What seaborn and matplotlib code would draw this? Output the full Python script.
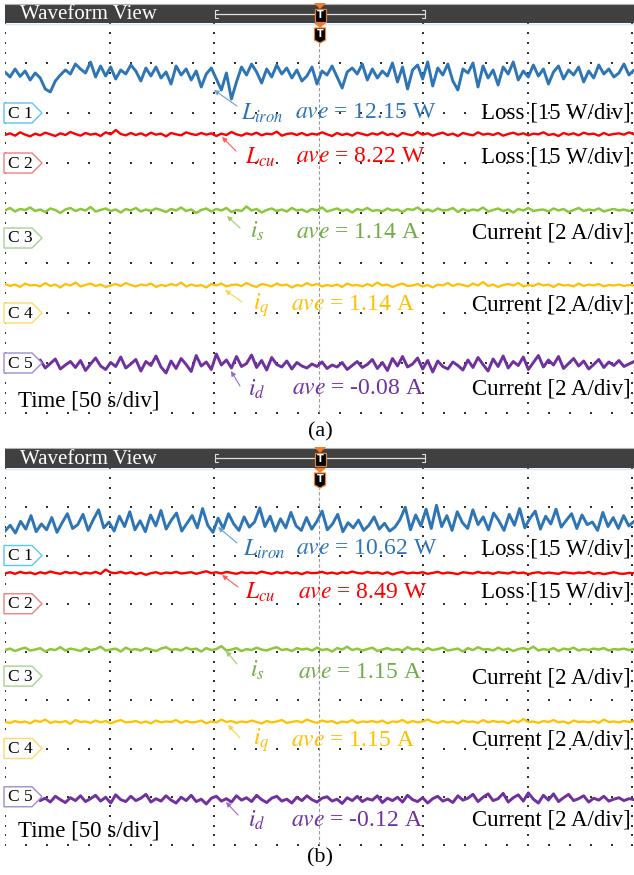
import numpy as np
import pandas as pd
import matplotlib
matplotlib.use("Agg")
import matplotlib.pyplot as plt
import seaborn as sns
from matplotlib.patches import Polygon, Rectangle

# ---------------- data ----------------
channels = ["C 1", "C 2", "C 3", "C 4", "C 5"]
names = [r"$L_{iron}$", r"$L_{cu}$", r"$i_s$", r"$i_q$", r"$i_d$"]
units_text = ["Loss [15 W/div]", "Loss [15 W/div]", "Current [2 A/div]",
              "Current [2 A/div]", "Current [2 A/div]"]
units_per_div = [15.0, 15.0, 2.0, 2.0, 2.0]
ave_a = ["12.15 W", "8.22 W", "1.14 A", "1.14 A", "-0.08 A"]
ave_b = ["10.62 W", "8.49 W", "1.15 A", "1.15 A", "-0.12 A"]
time_span_s = 300  # 6 div x 50 s/div

blue_a = [12.3, 10.8, 13.2, 11.0, 12.6, 9.9, 12.0, 10.5, 7.2, 6.3, 9.6, 11.4, 12.9, 11.7, 14.7, 13.2, 12.0, 15.3,
          10.8, 14.1, 11.1, 13.8, 10.2, 12.9, 11.7, 14.4, 12.6, 9.6, 13.5, 11.1, 13.8, 10.5, 12.3, 8.7, 14.1, 11.4,
          13.2, 9.9, 12.6, 7.8, 11.7, 13.5, 10.2, 6.9, 12.0, 4.2, 9.3, 13.8, 11.4, 14.7, 12.3, 9.0, 13.2, 10.8,
          14.4, 11.7, 13.5, 10.5, 12.9, 9.6, 11.1, 13.8, 8.7, 12.6, 11.4, 14.1, 10.8, 7.5, 12.3, 13.5, 11.7, 14.7,
          9.9, 13.2, 10.5, 12.6, 11.1, 15.0, 9.3, 13.8, 7.2, 12.9, 14.4, 10.2, 15.3, 8.1, 13.5, 11.4, 14.7, 9.6,
          6.9, 13.2, 12.0, 15.0, 7.8, 14.1, 10.5, 12.9, 8.4, 13.8, 11.7, 15.3, 9.9, 12.6, 10.8, 14.4, 11.1, 13.2,
          8.7, 12.3, 14.1, 10.2, 12.9, 11.4, 13.8, 9.3, 12.6, 10.5, 14.4, 11.7, 13.2, 10.8, 12.0, 14.7, 11.4, 12.9]
red_a = [8.4, 8.9, 8.2, 9.2, 8.5, 8.0, 8.8, 8.3, 9.1, 8.6, 8.1, 8.9, 8.4, 9.3, 8.7, 8.2, 9.0, 8.5, 8.8, 8.1, 9.2,
         8.6, 9.9, 8.7, 8.3, 9.0, 8.4, 8.9, 8.2, 9.1, 8.5, 8.8, 8.0, 9.0, 8.6, 8.3, 9.2, 8.7, 8.4, 9.0, 8.5, 8.9,
         8.1, 8.8, 8.4, 9.3, 8.6, 8.2, 8.9, 8.5, 9.1, 8.3, 8.8, 8.6, 9.4, 8.2, 8.7, 8.9, 8.4, 9.0, 8.3, 8.8, 8.5,
         9.2, 8.6, 8.1, 9.0, 8.4, 8.8, 8.2, 9.1, 8.7, 8.3, 8.9, 8.5, 9.2, 8.4, 8.8, 8.0, 9.0, 8.6, 8.3, 9.3, 8.5,
         8.9, 8.2, 8.7, 9.1, 8.4, 8.8, 8.1, 9.0, 8.6, 8.3, 9.2, 8.5, 8.8, 8.4, 9.0, 8.2, 8.7, 9.1, 8.5, 8.9, 8.3,
         8.8, 8.6, 9.2, 8.4, 8.7, 8.1, 9.0, 8.5, 8.9, 8.3, 9.1, 8.6, 8.8, 8.2, 9.0, 8.4, 8.7, 8.9, 8.5, 9.2, 8.6]
green_a = [1.10, 1.20, 1.06, 1.16, 1.12, 1.22, 1.08, 1.14, 1.04, 1.18, 1.12, 1.00, 1.14, 1.20, 1.08, 1.16, 1.10,
           1.24, 1.06, 1.12, 1.18, 1.08, 1.14, 1.02, 1.16, 1.10, 1.20, 1.06, 1.14, 1.08, 1.18, 1.12, 1.04, 1.16,
           1.10, 1.22, 1.08, 1.14, 1.00, 1.12, 1.18, 1.06, 1.16, 1.10, 1.20, 1.04, 1.12, 1.08, 1.26, 1.10, 1.16,
           1.02, 1.12, 1.18, 1.08, 1.14, 1.06, 1.20, 1.10, 1.14, 1.04, 1.16, 1.10, 1.22, 1.06, 1.12, 1.18, 1.08,
           1.14, 1.02, 1.16, 1.10, 1.20, 1.08, 1.12, 1.06, 1.18, 1.10, 1.14, 1.04, 1.16, 1.12, 1.22, 1.08, 1.14,
           1.06, 1.18, 1.10, 1.12, 1.20, 1.04, 1.16, 1.08, 1.14, 1.10, 1.22, 1.06, 1.12, 1.18, 1.08, 1.14, 1.02,
           1.16, 1.10, 1.20, 1.08, 1.12, 1.14, 1.06, 1.18, 1.10, 1.16, 1.04, 1.12, 1.20, 1.08, 1.14, 1.10, 1.18,
           1.06, 1.12, 1.16, 1.10, 1.14, 1.08, 1.12]
yellow_a = [1.16, 1.08, 1.14, 1.04, 1.18, 1.10, 1.12, 1.06, 1.20, 1.08, 1.14, 1.02, 1.16, 1.10, 1.22, 1.06, 1.12,
            1.18, 1.08, 1.14, 1.04, 1.10, 1.16, 1.08, 1.20, 1.12, 1.06, 1.14, 1.10, 1.18, 1.04, 1.12, 1.08, 1.16,
            1.10, 1.22, 1.06, 1.14, 1.08, 1.12, 1.02, 1.16, 1.10, 1.18, 1.06, 1.12, 1.14, 1.08, 1.20, 1.10, 1.04,
            1.16, 1.12, 1.06, 1.18, 1.10, 1.14, 1.02, 1.12, 1.08, 1.20, 1.10, 1.16, 1.06, 1.12, 1.08, 1.14, 1.04,
            1.18, 1.10, 1.12, 1.06, 1.16, 1.08, 1.22, 1.10, 1.14, 1.04, 1.12, 1.18, 1.08, 1.10, 1.16, 1.06, 1.12,
            1.02, 1.14, 1.10, 1.20, 1.08, 1.16, 1.12, 1.06, 1.18, 1.10, 1.24, 1.08, 1.14, 1.04, 1.12, 1.16, 1.10,
            1.20, 1.06, 1.12, 1.08, 1.18, 1.10, 1.14, 1.04, 1.16, 1.10, 1.12, 1.06, 1.18, 1.08, 1.14, 1.10, 1.16,
            1.06, 1.12, 1.10, 1.14, 1.08, 1.12, 1.10]
purple_a = [-0.10, -0.22, 0.04, -0.16, 0.08, -0.28, -0.06, 0.12, -0.20, -0.02, 0.16, -0.24, -0.08, 0.06, -0.18,
            0.10, -0.30, -0.04, 0.20, -0.12, -0.26, 0.02, -0.14, 0.24, -0.20, -0.04, 0.14, -0.32, 0.06, -0.10,
            0.28, -0.16, -0.40, 0.08, -0.22, 0.18, -0.06, -0.34, 0.30, -0.12, 0.04, -0.26, 0.36, -0.08, 0.12,
            -0.20, 0.26, -0.14, -0.02, 0.32, -0.18, 0.10, -0.28, 0.22, -0.06, -0.16, 0.08, -0.24, 0.02, -0.12,
            -0.20, -0.04, -0.14, 0.04, -0.22, -0.08, -0.16, 0.02, -0.26, -0.10, 0.06, -0.18, -0.06, 0.14, -0.22,
            0.02, -0.30, 0.18, -0.12, 0.26, -0.16, -0.04, 0.20, -0.24, 0.10, -0.36, 0.08, -0.14, -0.24, 0.04,
            -0.10, -0.28, 0.12, -0.18, 0.22, -0.06, -0.32, 0.16, -0.14, 0.28, -0.20, 0.06, -0.10, 0.24, -0.26,
            0.02, 0.30, -0.16, 0.12, -0.08, 0.26, -0.22, -0.02, 0.18, -0.12, 0.08, -0.24, -0.06, 0.14, -0.18,
            0.04, -0.10, 0.10, -0.14, -0.04, 0.06]

blue_b = [7.6, 9.4, 7.0, 10.6, 8.2, 12.4, 7.4, 9.8, 8.0, 11.8, 7.2, 10.2, 13.0, 8.4, 9.6, 12.8, 7.8, 11.2, 14.2,
          8.6, 10.4, 7.6, 12.2, 9.0, 13.6, 8.0, 10.8, 7.4, 12.6, 9.2, 14.0, 8.2, 11.0, 13.2, 7.6, 10.0, 12.4, 8.6,
          14.6, 9.4, 7.2, 11.6, 8.4, 13.0, 9.8, 7.8, 12.0, 8.8, 10.4, 14.8, 9.0, 12.2, 7.6, 11.4, 8.6, 13.4, 9.2,
          7.8, 11.8, 8.2, 10.6, 13.8, 8.0, 9.8, 12.8, 7.4, 10.2, 8.6, 11.0, 7.8, 9.4, 12.0, 8.2, 10.0, 7.6, 8.8,
          11.2, 15.0, 8.0, 12.6, 9.2, 14.4, 8.4, 15.6, 9.0, 12.4, 7.8, 13.6, 10.2, 8.4, 14.2, 9.6, 12.0, 8.0,
          13.2, 10.8, 7.8, 12.8, 9.4, 14.6, 8.6, 11.6, 13.8, 8.2, 12.2, 9.8, 14.4, 8.8, 11.0, 13.0, 8.4, 12.6,
          9.6, 10.4, 7.8, 13.4, 9.0, 11.8, 8.4, 12.4, 9.2, 10.6]
red_b = [9.4, 9.8, 9.3, 9.9, 9.5, 9.7, 9.2, 9.8, 9.4, 10.0, 9.6, 9.3, 9.9, 9.5, 9.8, 9.2, 9.7, 9.4, 9.9, 9.3, 10.6,
         9.7, 9.5, 9.9, 9.4, 9.8, 9.2, 9.6, 9.0, 9.5, 9.8, 9.3, 9.7, 9.5, 9.9, 9.4, 9.6, 9.8, 9.3, 9.7, 10.1, 9.5,
         9.8, 9.4, 9.9, 9.6, 9.3, 9.8, 9.5, 9.7, 9.4, 10.0, 9.6, 9.3, 9.8, 9.5, 9.9, 9.4, 9.7, 9.2, 9.8, 9.5, 9.6,
         9.9, 9.4, 9.7, 9.3, 9.8, 9.5, 10.0, 9.6, 9.4, 9.9, 9.5, 9.7, 9.3, 9.8, 9.1, 9.6, 9.9, 9.4, 9.7, 9.5, 9.8,
         9.3, 9.6, 9.9, 9.4, 9.7, 9.5, 9.2, 9.8, 9.6, 9.4, 9.9, 9.5, 9.7, 9.3, 9.8, 9.6, 9.4, 9.9, 9.5, 9.7, 9.2,
         9.6, 9.8, 9.4, 9.7, 9.5, 9.3, 9.8, 9.6, 9.4, 9.7, 9.5, 9.9, 9.3, 9.6, 9.2, 9.5, 9.8, 9.4, 9.3, 9.6, 9.5]
green_b = [1.08, 1.14, 1.04, 1.12, 1.18, 1.06, 1.10, 1.16, 1.02, 1.12, 1.08, 1.20, 1.06, 1.14, 1.10, 1.04, 1.16,
           1.08, 1.12, 1.22, 1.06, 1.10, 1.14, 1.02, 1.18, 1.08, 1.12, 1.06, 1.16, 1.10, 1.04, 1.14, 1.20, 1.08,
           1.12, 1.06, 1.18, 1.10, 1.14, 1.02, 1.16, 1.08, 1.12, 1.24, 1.06, 1.10, 1.16, 1.04, 1.12, 1.08, 1.18,
           1.10, 1.06, 1.14, 1.20, 1.08, 1.12, 1.04, 1.16, 1.10, 1.14, 1.06, 1.18, 1.08, 1.12, 1.02, 1.16, 1.10,
           1.22, 1.08, 1.14, 1.06, 1.12, 1.18, 1.04, 1.10, 1.16, 1.08, 1.12, 1.06, 1.20, 1.10, 1.14, 1.04, 1.16,
           1.08, 1.12, 1.18, 1.06, 1.10, 1.14, 1.02, 1.16, 1.08, 1.20, 1.10, 1.12, 1.06, 1.18, 1.08, 1.14, 1.04,
           1.12, 1.16, 1.10, 1.22, 1.06, 1.12, 1.08, 1.16, 1.04, 1.14, 1.10, 1.18, 1.06, 1.12, 1.08, 1.14, 1.10,
           1.16, 1.06, 1.12, 1.10, 1.14, 1.08, 1.12]
yellow_b = [1.10, 1.06, 1.14, 1.08, 1.12, 1.04, 1.16, 1.10, 1.20, 1.06, 1.12, 1.08, 1.14, 1.02, 1.18, 1.10, 1.12,
            1.06, 1.16, 1.08, 1.14, 1.04, 1.12, 1.18, 1.08, 1.10, 1.14, 1.06, 1.12, 1.04, 1.16, 1.08, 1.12, 1.10,
            1.18, 1.06, 1.14, 1.08, 1.10, 1.16, 1.04, 1.12, 1.08, 1.20, 1.10, 1.14, 1.06, 1.12, 1.08, 1.16, 1.10,
            1.04, 1.14, 1.08, 1.12, 1.18, 1.06, 1.10, 1.14, 1.08, 1.20, 1.12, 1.06, 1.16, 1.10, 1.14, 1.04, 1.12,
            1.08, 1.18, 1.06, 1.12, 1.10, 1.14, 1.08, 1.16, 1.04, 1.12, 1.10, 1.18, 1.06, 1.14, 1.08, 1.12, 1.20,
            1.10, 1.06, 1.14, 1.08, 1.12, 1.04, 1.16, 1.10, 1.12, 1.06, 1.18, 1.08, 1.14, 1.10, 1.12, 1.04, 1.16,
            1.08, 1.22, 1.10, 1.12, 1.06, 1.14, 1.10, 1.18, 1.08, 1.12, 1.04, 1.16, 1.10, 1.12, 1.08, 1.14, 1.06,
            1.20, 1.10, 1.12, 1.08, 1.14, 1.10, 1.12]
purple_b = [-0.10, -0.18, -0.04, -0.20, -0.08, -0.14, 0.00, -0.16, -0.06, -0.22, 0.02, -0.12, -0.24, -0.04, -0.16,
            0.04, -0.20, -0.08, 0.06, -0.18, -0.02, -0.26, 0.08, -0.12, -0.20, 0.02, -0.16, -0.06, 0.10, -0.22,
            -0.08, -0.18, 0.04, -0.14, -0.26, -0.02, -0.16, 0.06, -0.20, -0.10, -0.30, -0.06, 0.02, -0.18, -0.08,
            -0.22, 0.04, -0.14, -0.04, -0.20, 0.06, -0.12, -0.24, -0.06, 0.02, -0.18, -0.10, -0.26, -0.02, -0.16,
            0.04, -0.12, -0.22, -0.06, 0.00, -0.18, -0.10, -0.28, -0.04, -0.16, 0.02, -0.20, -0.08, -0.14, 0.04,
            -0.24, -0.06, -0.16, -0.02, -0.22, 0.06, -0.12, -0.20, -0.04, -0.26, -0.08, 0.02, -0.18, -0.10, -0.24,
            0.04, -0.14, -0.06, 0.10, -0.20, -0.02, 0.12, -0.16, -0.08, 0.14, -0.22, -0.04, 0.08, -0.18, 0.16,
            -0.10, -0.26, 0.06, -0.14, 0.12, -0.20, -0.04, 0.10, -0.16, -0.08, 0.04, -0.22, -0.06, -0.14, 0.02,
            -0.18, -0.10, -0.04, -0.16, -0.08, -0.12]

# ---------------- style ----------------
sns.set_theme(style="white")
plt.rcParams["font.family"] = ["Liberation Serif", "DejaVu Serif"]
plt.rcParams["mathtext.fontset"] = "stix"

trace_colors = ["#2e75b6", "#ff0000", "#8dc63f", "#ffc000", "#7030a0"]
text_colors = ["#2e75b6", "#ff0000", "#70ad47", "#ffc000", "#7030a0"]
arrow_colors = ["#6a9fd0", "#ff5a5a", "#9fcf6a", "#ffd050", "#9a6cc0"]
tag_colors = ["#5bc8f0", "#f08080", "#a9d18e", "#ffd966", "#a08cd0"]
line_widths = [2.1, 1.7, 1.8, 1.6, 2.1]
ground_div = [6.0, 5.0, 3.5, 2.0, 1.0]

W, H = 634, 875
fig = plt.figure(figsize=(W / 100, H / 100), dpi=100)

panels = [
    dict(series=[blue_a, red_a, green_a, yellow_a, purple_a], aves=ave_a,
         grid_top=13, grid_bot=413, head_top=4, head_bot=23, cap="(a)", cap_y=432,
         name_xy=[(241, 113), (245, 157), (250, 231), (253, 305), (248, 389)],
         ave_xy=[(295, 113), (296, 157), (296, 233), (291, 305), (292, 389)],
         unit_y=[113, 157, 233, 305, 389], time_y=401,
         arrows=[((237, 106), (214, 90)), ((236, 151), (222, 137)), ((240, 228), (227, 216)),
                 ((242, 302), (225, 290)), ((240, 386), (231, 371))]),
    dict(series=[blue_b, red_b, green_b, yellow_b, purple_b], aves=ave_b,
         grid_top=459, grid_bot=845, head_top=448, head_bot=468, cap="(b)", cap_y=858,
         name_xy=[(243, 549), (245, 592), (250, 670), (253, 740), (248, 820)],
         ave_xy=[(296, 549), (298, 592), (298, 672), (291, 740), (291, 820)],
         unit_y=[549, 592, 678, 740, 820], time_y=831,
         arrows=[((237, 543), (218, 527)), ((238, 587), (222, 575)), ((237, 664), (226, 651)),
                 ((240, 738), (228, 725)), ((238, 815), (226, 802))]),
]

x_left, x_right = 5, 634

for p in panels:
    bottom = 1 - p["grid_bot"] / H
    height = (p["grid_bot"] - p["grid_top"]) / H
    ax = fig.add_axes([x_left / W, bottom, (x_right - x_left) / W, height])
    ax.set_xlim(0, time_span_s * (x_right - x_left) / 627.5)
    ax.set_ylim(0, 8)
    ax.axis("off")

    # dotted graticule
    vx, vy = [], []
    for k in [0, 1, 2, 4, 5, 6]:
        ys = np.arange(0, 8.001, 0.2)
        vx += [k * 50] * len(ys)
        vy += list(ys)
    for r in range(0, 9):
        xs = np.arange(0, 300.01, 10)
        vx += list(xs)
        vy += [r] * len(xs)
    ax.scatter(vx, vy, s=1.3, marker="s", color="#333333", linewidths=0, zorder=1)
    # trigger dashed line
    top_div = (p["grid_bot"] - (p["head_bot"] + 20)) / ((p["grid_bot"] - p["grid_top"]) / 8)
    ax.plot([150, 150], [0, top_div], color="#9a9a9a", lw=0.8, dashes=(3, 2), zorder=1)

    rows = []
    for ci, vals in enumerate(p["series"]):
        t = np.linspace(0, time_span_s * (x_right - x_left) / 627.5, len(vals))
        for ti, v in zip(t, vals):
            rows.append(dict(t=ti, pos=ground_div[ci] + v / units_per_div[ci], ch=channels[ci]))
    df = pd.DataFrame(rows)
    for ci, ch in enumerate(channels):
        sns.lineplot(data=df[df.ch == ch], x="t", y="pos", ax=ax, color=trace_colors[ci],
                     lw=line_widths[ci], legend=False, zorder=3, estimator=None)
    ax.axis("off")

# ---------------- overlay (pixel coords) ----------------
ov = fig.add_axes([0, 0, 1, 1])
ov.set_xlim(0, W)
ov.set_ylim(H, 0)
ov.axis("off")

for p in panels:
    ht, hb = p["head_top"], p["head_bot"]
    ov.add_patch(Rectangle((5, ht), W - 5, hb - ht, facecolor="#404040", edgecolor="none", zorder=5))
    ov.plot([5, W], [ht, ht], color="#b0b0b0", lw=0.8, zorder=6)
    ov.plot([5, W], [hb + 0.5, hb + 0.5], color="#dbe8f5", lw=1.0, zorder=6)
    ov.text(20, (ht + hb) / 2 + 1, "Waveform View", color="white", fontsize=15,
            va="center", ha="left", zorder=7)
    ym = (ht + hb) / 2
    ov.plot([215, 425], [ym, ym], color="#e0e0e0", lw=0.9, zorder=6)
    for xb, d in [(215, 1), (425, -1)]:
        ov.plot([xb + 3 * d, xb, xb, xb + 3 * d], [ym - 4, ym - 4, ym + 4, ym + 4],
                color="#e0e0e0", lw=0.8, zorder=6)
    # trigger markers
    ov.add_patch(Polygon([(314, ht - 1), (326, ht - 1), (320, ht + 5)], facecolor="#ed7d31",
                         edgecolor="none", zorder=8))
    ov.add_patch(Rectangle((314.5, ht + 5), 11, 13, facecolor="black", edgecolor="#ed7d31", lw=0.9, zorder=8))
    ov.text(320, ht + 11.5, "T", color="white", fontsize=7, ha="center", va="center",
            family="DejaVu Sans", weight="bold", zorder=9)
    ov.add_patch(Polygon([(314, hb), (326, hb), (320, hb + 5)], facecolor="#ed7d31",
                         edgecolor="none", zorder=8))
    ov.add_patch(Polygon([(314.5, hb + 5), (325.5, hb + 5), (325.5, hb + 17), (320, hb + 20), (314.5, hb + 17)],
                         facecolor="black", edgecolor="#ed7d31", lw=0.9, zorder=8))
    ov.text(320, hb + 11, "T", color="white", fontsize=7, ha="center", va="center",
            family="DejaVu Sans", weight="bold", zorder=9)

    div_h = (p["grid_bot"] - p["grid_top"]) / 8
    for ci in range(5):
        yc = p["grid_bot"] - ground_div[ci] * div_h
        ov.add_patch(Polygon([(4, yc - 10), (32, yc - 10), (42, yc), (32, yc + 10), (4, yc + 10)],
                             facecolor="white", edgecolor=tag_colors[ci], lw=1.0, zorder=6))
        ov.text(8, yc + 0.5, channels[ci], fontsize=12.5, color="black", va="center", ha="left", zorder=7)

        nx, ny = p["name_xy"][ci]
        ov.text(nx, ny, names[ci], fontsize=17, color=text_colors[ci], va="center", ha="left", zorder=7)
        axx, axy = p["ave_xy"][ci]
        ov.text(axx, axy, r"$ave$ = " + p["aves"][ci], fontsize=17, color=text_colors[ci],
                va="center", ha="left", zorder=7)
        ov.text(631, p["unit_y"][ci], units_text[ci], fontsize=16.5, color="black",
                va="center", ha="right", zorder=7)
        (x0, y0), (x1, y1) = p["arrows"][ci]
        ov.annotate("", xy=(x1, y1), xytext=(x0, y0),
                    arrowprops=dict(arrowstyle="-|>", color=arrow_colors[ci], lw=0.8,
                                    mutation_scale=7, shrinkA=0, shrinkB=0), zorder=7)
    ov.text(18, p["time_y"], "Time [50 s/div]", fontsize=16.5, color="black", va="center", ha="left", zorder=7)
    ov.text(320, p["cap_y"], p["cap"], fontsize=16, color="black", va="center", ha="center", zorder=7)

fig.savefig("out.png", dpi=100)
